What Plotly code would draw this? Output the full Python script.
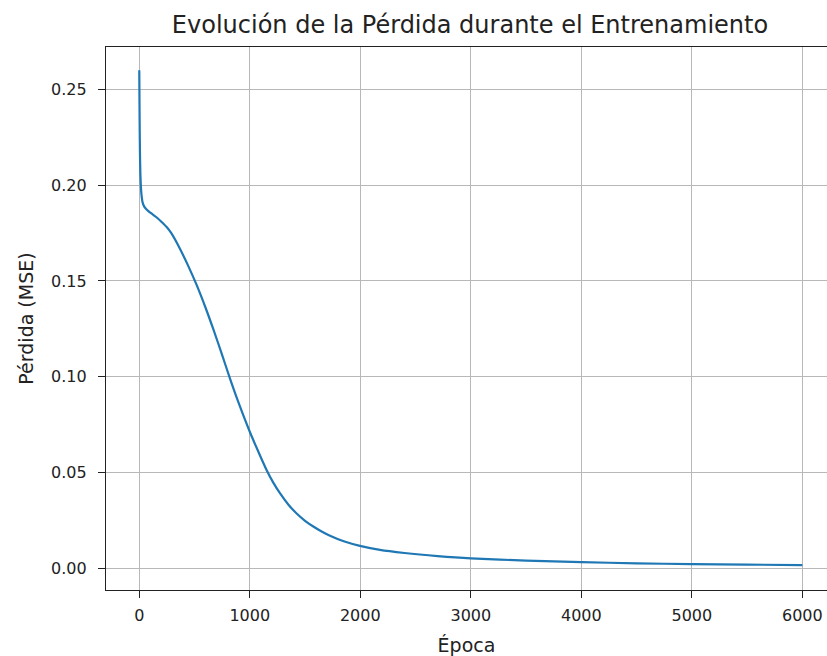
import plotly.graph_objects as go

epochs = [0, 3, 6, 10, 15, 20, 30, 45, 60, 80, 110, 150, 200, 250, 290, 368, 445, 519, 600, 670,
          745, 821, 900, 1002, 1075, 1153, 1210, 1273, 1350, 1424, 1500, 1575, 1650, 1726,
          1850, 1997, 2178, 2400, 2700, 3000, 3500, 4000, 4500, 5000, 5500, 6000]
loss = [0.260, 0.235, 0.218, 0.206, 0.199, 0.195, 0.1910, 0.1888, 0.1877, 0.1866, 0.1852, 0.1835,
        0.1809, 0.1780, 0.1749, 0.1668, 0.1576, 0.1479, 0.1360, 0.1248,
        0.1122, 0.0990, 0.0862, 0.0710, 0.0612, 0.0512, 0.0450, 0.0392, 0.0332, 0.0286,
        0.0248, 0.0218, 0.0192, 0.0170,
        0.0141, 0.0117, 0.0096, 0.0080, 0.0064, 0.0052, 0.0040, 0.0032, 0.0026, 0.0022, 0.0019, 0.0017]

x_ticks = [0, 1000, 2000, 3000, 4000, 5000, 6000]
y_ticks = [0.00, 0.05, 0.10, 0.15, 0.20, 0.25]

fig = go.Figure()
fig.add_trace(go.Scatter(x=epochs, y=loss, mode="lines",
                         line=dict(color="#1f77b4", width=2.2, shape="spline", smoothing=0.8),
                         showlegend=False))

font = "DejaVu Sans"
fig.update_layout(
    width=827, height=656,
    margin=dict(l=106, r=0, t=47, b=66),
    paper_bgcolor="white", plot_bgcolor="white",
    font=dict(family=font, size=16, color="#222"),
    title=dict(text="Evolución de la Pérdida durante el Entrenamiento",
               x=470/827, xref="container", xanchor="center",
               y=1-25/656, yref="container", yanchor="middle",
               font=dict(family=font, size=24, color="#222")),
)
fig.update_xaxes(range=[-301, 6223], tickvals=x_ticks, ticktext=[str(v) for v in x_ticks],
                 showgrid=True, gridcolor="#b8b8b8", gridwidth=1,
                 showline=True, linecolor="#222", linewidth=1.3, mirror=True,
                 ticks="outside", ticklen=7, tickcolor="#222", zeroline=False,
                 ticklabelstandoff=4,
                 title=dict(text="Época", standoff=18))
fig.update_yaxes(range=[-0.01133, 0.2721], tickvals=y_ticks,
                 ticktext=[f"{v:.2f}" for v in y_ticks],
                 showgrid=True, gridcolor="#b8b8b8", gridwidth=1,
                 showline=True, linecolor="#222", linewidth=1.3,
                 ticks="outside", ticklen=7, tickcolor="#222", zeroline=False,
                 ticklabelstandoff=8,
                 title=dict(text="Pérdida (MSE)", standoff=12))

fig.write_html("out.html")
